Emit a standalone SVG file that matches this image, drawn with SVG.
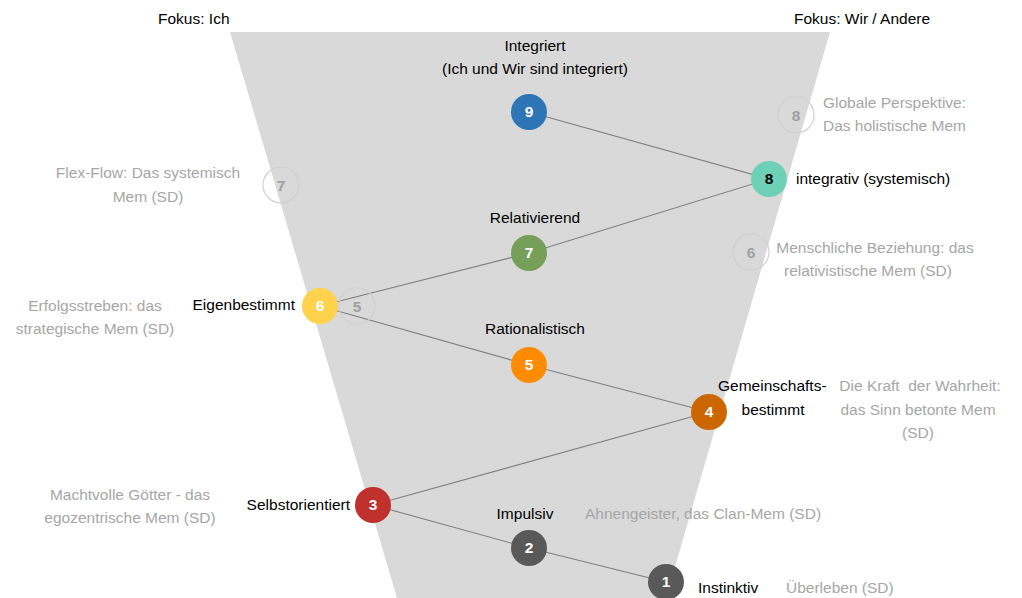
<svg xmlns="http://www.w3.org/2000/svg" width="1022" height="598" viewBox="0 0 1022 598">
<style>
text{font-family:"Liberation Sans",Arial,sans-serif;font-size:15.5px}
.b{fill:#000}
.g{fill:#a6a6a6}
.num{font-weight:bold;font-size:15.5px;text-anchor:middle;fill:#fff}
.ghost{fill:none;stroke:#d0d0d0;stroke-width:1.2}
.gnum{font-weight:bold;font-size:15.5px;text-anchor:middle;fill:#a0a0a0}
.c{text-anchor:middle}
.e{text-anchor:end}
.conn line{stroke:#808080;stroke-width:1.1}
</style>
<rect width="1022" height="598" fill="#fff"/>
<polygon points="230,32 830,32 666,598 397,598" fill="#d9d9d9"/>
<text x="158" y="24" class="b">Fokus: Ich</text>
<text x="794" y="24" class="b">Fokus: Wir / Andere</text>

<g id="connectors" class="conn">
<line x1="529" y1="112" x2="769" y2="179"/>
<line x1="769" y1="179" x2="529" y2="253"/>
<line x1="529" y1="253" x2="320" y2="306"/>
<line x1="320" y1="306" x2="529" y2="365"/>
<line x1="529" y1="365" x2="709" y2="412"/>
<line x1="709" y1="412" x2="373" y2="505"/>
<line x1="373" y1="505" x2="529" y2="548"/>
<line x1="529" y1="548" x2="666" y2="582"/>
</g>

<g id="ghost8"><circle cx="796" cy="115" r="18" class="ghost"/><text x="796" y="121" class="gnum">8</text>
<text x="823" y="108" class="g">Globale Perspektive:</text><text x="823" y="131" class="g">Das holistische Mem</text></g>
<g id="ghost7"><circle cx="281" cy="185" r="18" class="ghost"/><text x="281" y="191" class="gnum">7</text>
<text x="148" y="178" class="g c">Flex-Flow: Das systemisch</text><text x="148" y="202" class="g c">Mem (SD)</text></g>
<g id="ghost6"><circle cx="751" cy="252" r="18" class="ghost"/><text x="751" y="258" class="gnum">6</text>
<text x="875" y="253" class="g c">Menschliche Beziehung: das</text><text x="868" y="276" class="g c">relativistische Mem (SD)</text></g>
<g id="ghost5"><circle cx="357" cy="306" r="18" class="ghost"/><text x="357" y="312" class="gnum">5</text></g>

<g id="n9"><circle cx="529" cy="112" r="18" fill="#2e75b6"/><text x="529" y="117" class="num">9</text>
<text x="535" y="51" class="b c">Integriert</text><text x="535" y="74" class="b c">(Ich und Wir sind integriert)</text></g>
<g id="n8"><circle cx="769" cy="179" r="18" fill="#6fd0b8"/><text x="769" y="184" class="num" style="fill:#000">8</text>
<text x="796" y="184" class="b">integrativ (systemisch)</text></g>
<g id="n7"><circle cx="529" cy="253" r="18" fill="#76a05a"/><text x="529" y="258" class="num">7</text>
<text x="535" y="223" class="b c">Relativierend</text></g>
<g id="n6"><circle cx="320" cy="306" r="18" fill="#ffd24d"/><text x="320" y="311" class="num">6</text>
<text x="295" y="310" class="b e">Eigenbestimmt</text>
<text x="95" y="311" class="g c">Erfolgsstreben: das</text><text x="95" y="334" class="g c">strategische Mem (SD)</text></g>
<g id="n5"><circle cx="529" cy="365" r="18" fill="#ff8c00"/><text x="529" y="370" class="num">5</text>
<text x="535" y="334" class="b c">Rationalistisch</text></g>
<g id="n4"><circle cx="709" cy="412" r="18" fill="#cc6600"/><text x="709" y="417" class="num">4</text>
<text x="718" y="391" class="b">Gemeinschafts-</text><text x="773" y="415" class="b c">bestimmt</text>
<text x="920" y="391" class="g c" xml:space="preserve">Die Kraft  der Wahrheit:</text><text x="918" y="415" class="g c">das Sinn betonte Mem</text><text x="918" y="438" class="g c">(SD)</text></g>
<g id="n3"><circle cx="373" cy="505" r="18" fill="#c0302c"/><text x="373" y="510" class="num">3</text>
<text x="350" y="510" class="b e">Selbstorientiert</text>
<text x="130" y="500" class="g c">Machtvolle Götter - das</text><text x="130" y="523" class="g c">egozentrische Mem (SD)</text></g>
<g id="n2"><circle cx="529" cy="548" r="18" fill="#595959"/><text x="529" y="553" class="num">2</text>
<text x="525" y="519" class="b c">Impulsiv</text>
<text x="585" y="519" class="g">Ahnengeister, das Clan-Mem (SD)</text></g>
<g id="n1"><circle cx="666" cy="582" r="18" fill="#595959"/><text x="666" y="587" class="num">1</text>
<text x="698" y="593" class="b">Instinktiv</text>
<text x="786" y="593" class="g">Überleben (SD)</text></g>
</svg>
